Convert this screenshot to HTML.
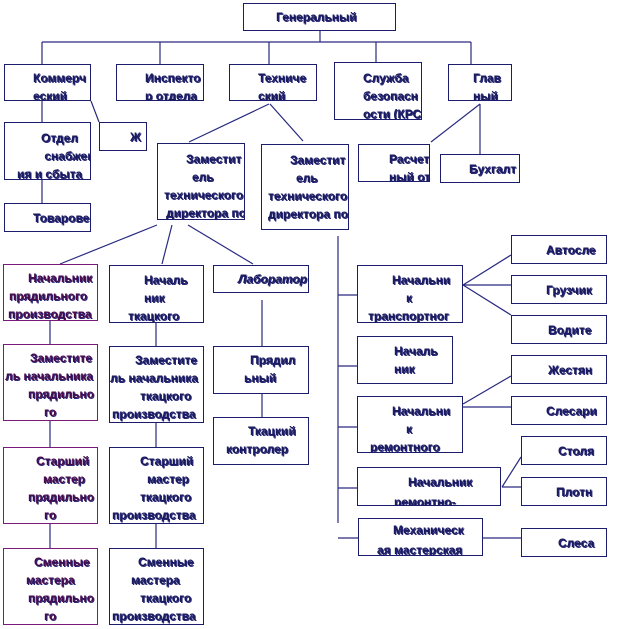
<!DOCTYPE html>
<html><head><meta charset="utf-8"><style>
body{margin:0;width:620px;height:629px;background:#fff;position:relative;overflow:hidden;font-family:"Liberation Sans",sans-serif}
.b{position:absolute;border:1.3px solid #1c1c6c;box-sizing:border-box;overflow:hidden;background:#fff;color:#1a1a5e;font-weight:bold;font-size:12px;line-height:18px;white-space:nowrap;text-shadow:1px 1px 0 #2a2a7a}
.p{border-color:#7a1a7a;color:#4a0a4a}
.b span{position:absolute;display:block}
svg{position:absolute;left:0;top:0}
</style></head><body>
<svg width="620" height="629" stroke="#2a2a80" stroke-width="1.2" fill="none">
<path d="M320 31V42M42 42H471M42 42V64M160 42V64M269 42V64M376 42V62M471 42V64"/>
<path d="M42 101V122M91 101L99 122M42 180V203"/>
<path d="M269 104L189 142M270 104L303 141M480 104L431 142M480 104V154"/>
<path d="M157 225L60 264M172 225L162 264M188 225L253 264"/>
<path d="M50 321V344M50 421V447M50 524V548M156 323V346M156 423V447M156 524V548M262 300V346M262 394V417"/>
<path d="M338 236V523M338 295H357M338 366H357M338 427H357M338 488H357M338 538H358"/>
<path d="M463 285L511 255M463 285H511M463 285L511 315M463 404L511 376M463 407H511M502 487L521 457M502 487H521M483 538H521"/>
</svg>
<div class="b" style="left:243px;top:3px;width:153px;height:28px"><span style="left:32px;top:4px">Генеральный</span></div>
<div class="b" style="left:4px;top:64px;width:87px;height:37px"><span style="left:28px;top:4px">Коммерч<br>еский</span></div>
<div class="b" style="left:116px;top:64px;width:88px;height:37px"><span style="left:28px;top:4px">Инспекто<br>р отдела</span></div>
<div class="b" style="left:229px;top:64px;width:88px;height:37px"><span style="left:28px;top:4px">Техниче<br>ский</span></div>
<div class="b" style="left:334px;top:62px;width:88px;height:58px"><span style="left:28px;top:6px">Служба<br>безопасн<br>ости (КРС)</span></div>
<div class="b" style="left:448px;top:64px;width:64px;height:37px"><span style="left:24px;top:4px">Глав<br>ный</span></div>
<div class="b" style="left:4px;top:122px;width:87px;height:58px"><span style="left:36px;top:6px">Отдел<br>&nbsp;снабжен</span><span style="left:12px;top:42px">ия и сбыта</span></div>
<div class="b" style="left:99px;top:122px;width:48px;height:29px"><span style="left:30px;top:5px">Ж</span></div>
<div class="b" style="left:4px;top:203px;width:87px;height:29px"><span style="left:28px;top:5px">Товарове</span></div>
<div class="b" style="left:157px;top:143px;width:88px;height:77px"><span style="left:28px;top:6px">Заместит</span><span style="left:34px;top:24px">ель</span><span style="left:6px;top:42px">технического</span><span style="left:8px;top:60px">директора по</span></div>
<div class="b" style="left:261px;top:144px;width:88px;height:86px"><span style="left:28px;top:6px">Заместит</span><span style="left:34px;top:24px">ель</span><span style="left:6px;top:42px">технического</span><span style="left:6px;top:60px">директора по</span></div>
<div class="b" style="left:358px;top:144px;width:72px;height:38px"><span style="left:30px;top:5px">Расчет<br>ный отдел</span></div>
<div class="b" style="left:440px;top:154px;width:80px;height:29px"><span style="left:28px;top:5px">Бухгалт</span></div>
<div class="b p" style="left:3px;top:264px;width:95px;height:57px"><span style="left:24px;top:4px">Начальник</span><span style="left:5px;top:22px">прядильного</span><span style="left:4px;top:40px">производства</span></div>
<div class="b" style="left:109px;top:265px;width:95px;height:58px"><span style="left:34px;top:5px">Началь</span><span style="left:34px;top:23px">ник</span><span style="left:18px;top:41px">ткацкого</span></div>
<div class="b" style="left:213px;top:265px;width:96px;height:28px"><span style="left:24px;top:4px;font-style:italic">Лаборатор</span></div>
<div class="b p" style="left:3px;top:344px;width:95px;height:77px"><span style="left:26px;top:4px">Заместите</span><span style="left:1px;top:22px">ль начальника</span><span style="left:24px;top:40px">прядильно</span><span style="left:40px;top:58px">го</span></div>
<div class="b" style="left:109px;top:346px;width:95px;height:77px"><span style="left:25px;top:4px">Заместите</span><span style="left:0px;top:22px">ль начальника</span><span style="left:30px;top:40px">ткацкого</span><span style="left:2px;top:58px">производства</span></div>
<div class="b" style="left:213px;top:346px;width:96px;height:48px"><span style="left:36px;top:4px">Прядил</span><span style="left:30px;top:22px">ьный</span></div>
<div class="b" style="left:213px;top:417px;width:96px;height:48px"><span style="left:34px;top:4px">Ткацкий</span><span style="left:12px;top:22px">контролер</span></div>
<div class="b p" style="left:3px;top:447px;width:95px;height:77px"><span style="left:32px;top:4px">Старший</span><span style="left:39px;top:22px">мастер</span><span style="left:24px;top:40px">прядильно</span><span style="left:40px;top:58px">го</span></div>
<div class="b" style="left:109px;top:447px;width:95px;height:77px"><span style="left:30px;top:4px">Старший</span><span style="left:37px;top:22px">мастер</span><span style="left:30px;top:40px">ткацкого</span><span style="left:2px;top:58px">производства</span></div>
<div class="b p" style="left:3px;top:548px;width:95px;height:77px"><span style="left:30px;top:4px">Сменные</span><span style="left:22px;top:22px">мастера</span><span style="left:24px;top:40px">прядильно</span><span style="left:40px;top:58px">го</span></div>
<div class="b" style="left:109px;top:548px;width:95px;height:77px"><span style="left:28px;top:4px">Сменные</span><span style="left:21px;top:22px">мастера</span><span style="left:30px;top:40px">ткацкого</span><span style="left:2px;top:58px">производства</span></div>
<div class="b" style="left:511px;top:235px;width:96px;height:29px"><span style="left:34px;top:5px">Автосле</span></div>
<div class="b" style="left:511px;top:275px;width:96px;height:29px"><span style="left:34px;top:5px">Грузчик</span></div>
<div class="b" style="left:511px;top:315px;width:96px;height:29px"><span style="left:36px;top:5px">Водите</span></div>
<div class="b" style="left:357px;top:265px;width:106px;height:58px"><span style="left:34px;top:5px">Начальни</span><span style="left:48px;top:23px">к</span><span style="left:10px;top:41px">транспортног</span></div>
<div class="b" style="left:357px;top:336px;width:96px;height:48px"><span style="left:36px;top:5px">Началь</span><span style="left:36px;top:23px">ник</span></div>
<div class="b" style="left:511px;top:355px;width:96px;height:29px"><span style="left:36px;top:5px">Жестян</span></div>
<div class="b" style="left:511px;top:396px;width:96px;height:29px"><span style="left:34px;top:5px">Слесари</span></div>
<div class="b" style="left:357px;top:396px;width:106px;height:57px"><span style="left:34px;top:5px">Начальни</span><span style="left:48px;top:23px">к</span><span style="left:12px;top:41px">ремонтного</span></div>
<div class="b" style="left:521px;top:436px;width:86px;height:29px"><span style="left:36px;top:5px">Столя</span></div>
<div class="b" style="left:521px;top:477px;width:86px;height:29px"><span style="left:34px;top:5px">Плотн</span></div>
<div class="b" style="left:357px;top:467px;width:144px;height:39px"><span style="left:50px;top:5px">Начальник</span><span style="left:36px;top:25px">ремонтно-</span></div>
<div class="b" style="left:358px;top:518px;width:125px;height:38px"><span style="left:34px;top:2px">Механическ</span><span style="left:18px;top:22px">ая мастерская</span></div>
<div class="b" style="left:521px;top:528px;width:86px;height:29px"><span style="left:36px;top:5px">Слеса</span></div>
</body></html>
